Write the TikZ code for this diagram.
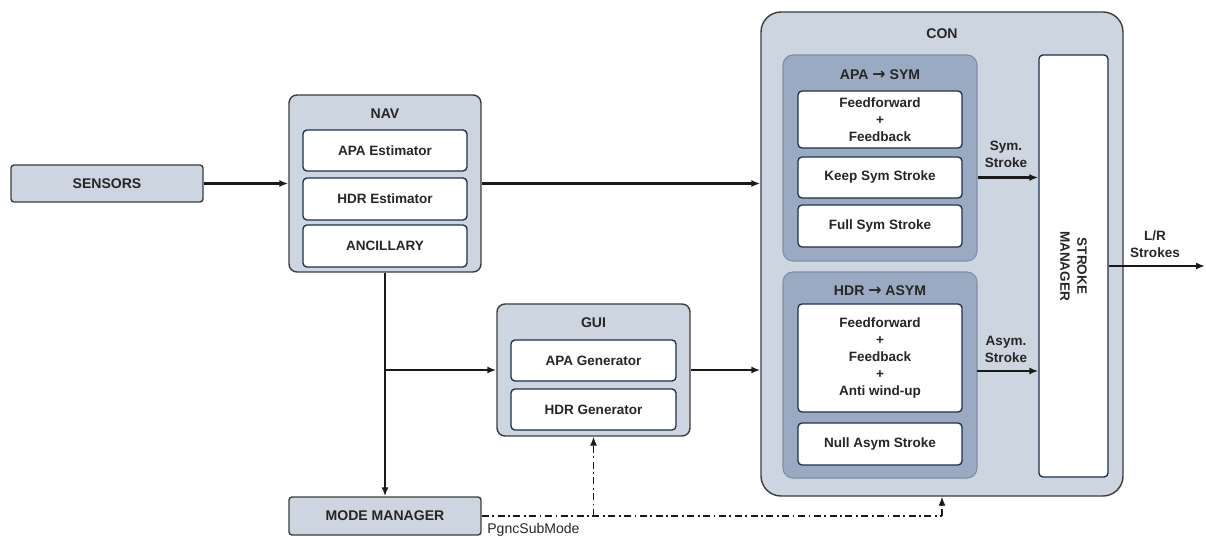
\documentclass[tikz,border=0pt]{standalone}
\usepackage{fontspec}
\setmainfont{Liberation Sans}
\newfontfamily\arrowfont{DejaVu Sans}
\usetikzlibrary{arrows.meta,fit,calc}
\definecolor{outerfill}{HTML}{CDD5E0}
\definecolor{groupfill}{HTML}{9AAAC2}
\definecolor{groupdraw}{HTML}{7F8FA8}
\definecolor{boxdraw}{HTML}{1F2D4A}
\definecolor{linec}{HTML}{1A1A1A}
\newcommand{\rarr}{{\arrowfont\bfseries\fontsize{9}{9}\selectfont →}}
\tikzset{
  outerbox/.style={draw=linec!85, fill=outerfill, line width=0.8pt, rounded corners=0.16cm, inner sep=0pt},
  conbox/.style={outerbox, rounded corners=0.4cm},
  groupbox/.style={draw=groupdraw, fill=groupfill, line width=0.6pt, rounded corners=0.2cm, inner sep=0pt},
  whitebox/.style={draw=boxdraw, fill=white, line width=0.75pt, rounded corners=0.08cm, inner sep=0pt},
  plainbox/.style={draw=linec!85, fill=outerfill, line width=0.8pt, rounded corners=0.06cm, inner sep=0pt},
  ttl/.style={font=\bfseries\fontsize{8}{9.6}\selectfont, text=black!85, inner sep=0pt},
  btxt/.style={font=\bfseries\fontsize{7.7}{9}\selectfont, text=black!85, inner sep=0pt},
  lbl/.style={font=\bfseries\fontsize{7.7}{9.6}\selectfont, text=black!85, inner sep=0pt, align=center},
  tip/.style={-{Latex[length=1.8mm,width=1.4mm]}},
  arr/.style={draw=linec, line width=1.3pt, tip},
  dd/.style={draw=linec, line width=0.75pt, dash pattern=on 4pt off 2pt on 1pt off 2pt},
}
\begin{document}
\begin{tikzpicture}[x=0.02cm,y=-0.02cm]
\useasboundingbox (0,0) rectangle (1206,536);
% SENSORS
\node[plainbox, fit={(11,165) (203,202)}] (sensors) {};
\node[ttl] at (sensors.center) {SENSORS};
% NAV
\node[outerbox, fit={(289,95) (481,272)}] (nav) {};
\node[ttl] (navt) at (385,114) {NAV};
\node[whitebox, fit={(303,130) (467,171)}] (apaest) {};
\node[btxt] at (apaest.center) {APA Estimator};
\node[whitebox, fit={(303,178) (467,220)}] (hdrest) {};
\node[btxt] at (hdrest.center) {HDR Estimator};
\node[whitebox, fit={(303,225) (467,267)}] (anc) {};
\node[btxt] at (anc.center) {ANCILLARY};
% GUI
\node[outerbox, fit={(497,304) (690,436)}] (gui) {};
\node[ttl] (guit) at (593.5,323) {GUI};
\node[whitebox, fit={(511,340) (676,381)}] (apagen) {};
\node[btxt] at (apagen.center) {APA Generator};
\node[whitebox, fit={(511,389) (676,430)}] (hdrgen) {};
\node[btxt] at (hdrgen.center) {HDR Generator};
% MODE MANAGER
\node[plainbox, fit={(289,497) (481,535)}] (mode) {};
\node[ttl] at (mode.center) {MODE MANAGER};
% CON
\node[conbox, fit={(761,12) (1123,496)}] (con) {};
\node[ttl] (cont) at (942,34) {CON};
\node[groupbox, fit={(783,55) (977,261)}] (apasym) {};
\node[ttl] (apasymt) at (880,75) {APA \rarr\ SYM};
\node[whitebox, fit={(798,91) (962,148)}] (ffb) {};
\node[lbl] at (ffb.center) {Feedforward\\+\\Feedback};
\node[whitebox, fit={(798,157) (962,198)}] (keep) {};
\node[lbl] at (keep.center) {Keep Sym Stroke};
\node[whitebox, fit={(798,205) (962,247)}] (full) {};
\node[lbl] at (full.center) {Full Sym Stroke};
\node[groupbox, fit={(783,272) (977,478)}] (hdrasym) {};
\node[ttl] (hdrasymt) at (880,291) {HDR \rarr\ ASYM};
\node[whitebox, fit={(798,304) (962,412)}] (ffa) {};
\node[lbl] at (ffa.center) {Feedforward\\+\\Feedback\\+\\Anti wind-up};
\node[whitebox, fit={(798,423) (962,465)}] (null) {};
\node[lbl] at (null.center) {Null Asym Stroke};
\node[whitebox, fit={(1039,55) (1108,477)}] (sm) {};
\node[lbl, rotate=-90] at (sm.center) {STROKE\\MANAGER};
% connectors
\draw[arr] (sensors) -- (sensors -| nav.west);
\draw[arr] (nav.east) -- (nav.east -| con.west);
\draw[arr] (nav.south) -- (mode.north);
\coordinate (br) at (nav.south |- gui.west);
\draw[arr] (br) -- (gui.west);
\draw[arr] (gui.east) -- (gui.east -| con.west);
\draw[arr] (keep.east -| apasym.east) -- (keep.east -| sm.west);
\node[lbl] at (1006,154) {Sym.\\Stroke};
\coordinate (asy) at (977,371);
\draw[arr] (asy) -- (asy -| sm.west);
\node[lbl] at (1006,349) {Asym.\\Stroke};
\coordinate (lr) at (1205,266);
\draw[arr] (lr -| sm.east) -- (lr);
\node[lbl] at (1155,244) {L/R\\Strokes};
% dash-dot mode signal
\coordinate (cin) at (942,516);
\draw[dd] (mode.east) -- (cin);
\draw[dd, tip] (cin) -- (cin |- con.south);
\draw[dd, tip] (mode.east -| gui.south) -- (gui.south);
\node[inner sep=0pt, font=\fontsize{8}{9.6}\selectfont, text=black!85, anchor=west] at (487,530) {PgncSubMode};
\end{tikzpicture}
\end{document}
